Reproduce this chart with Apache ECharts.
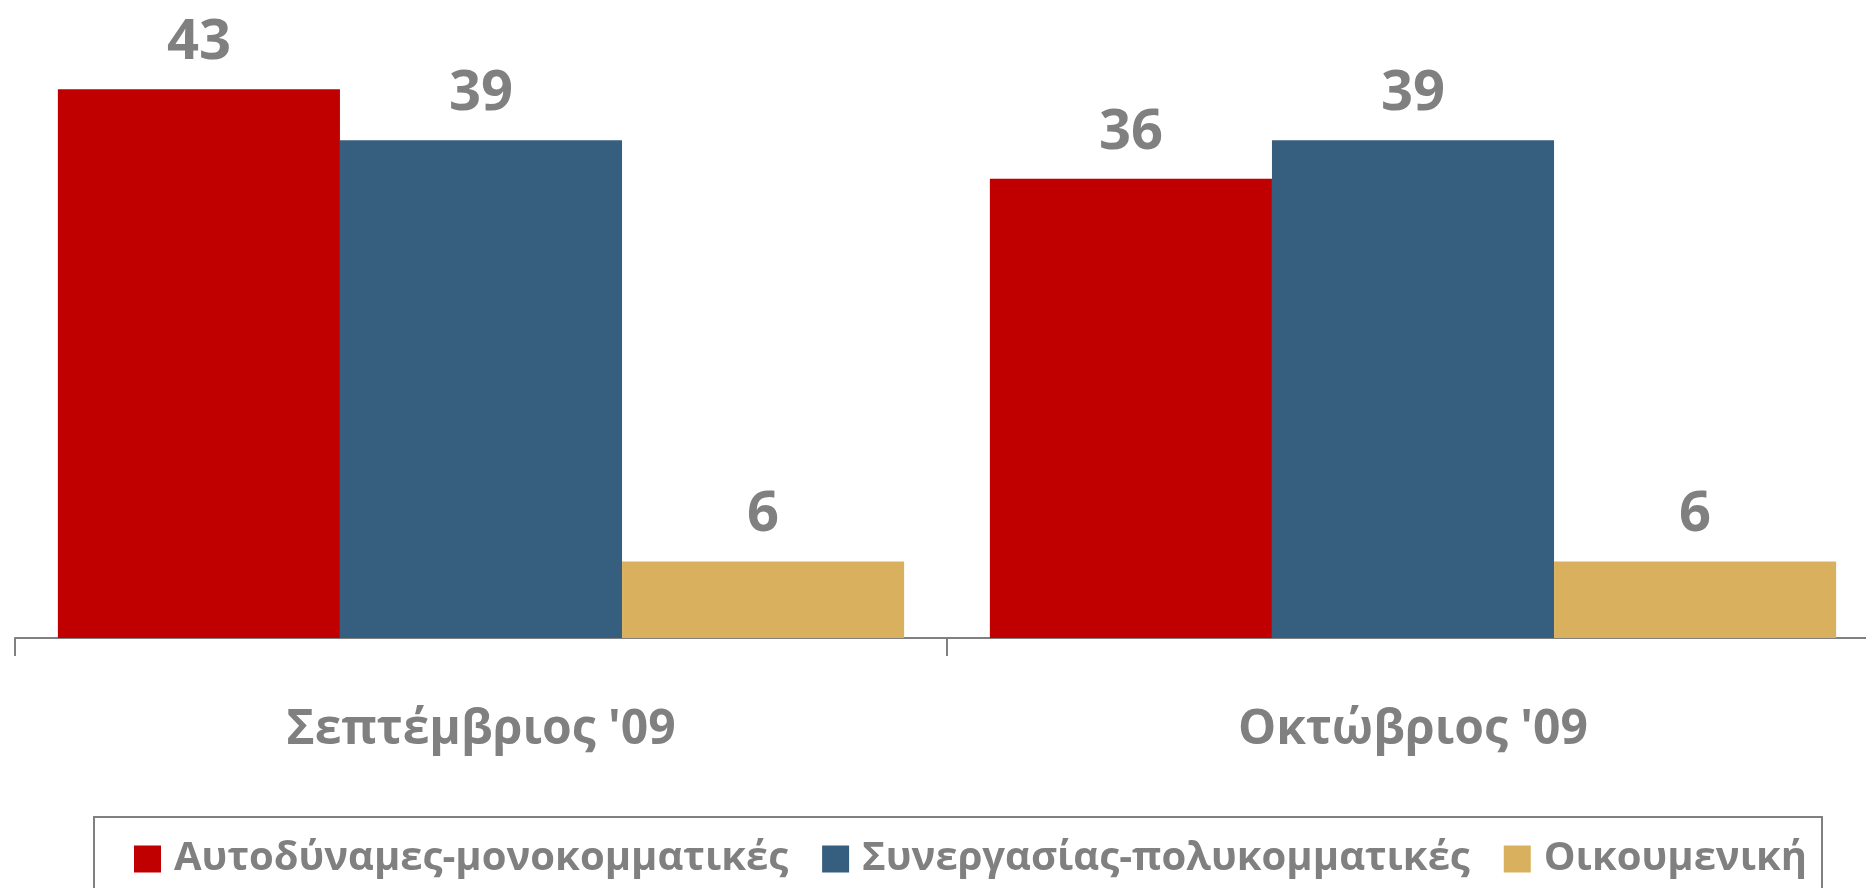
<!DOCTYPE html>
<html>
<head>
<meta charset="utf-8">
<script src="https://cdn.jsdelivr.net/npm/echarts@6/dist/echarts.min.js"></script>
<style>
  html, body { margin: 0; padding: 0; background: #fff; overflow: hidden; }
  /* the source chart runs a bit past the right edge, so the canvas is wider than the window */
  #chart { width: 1880px; height: 888px; }
</style>
</head>
<body>
<div id="chart"></div>
<script>
// data
const months = ["Σεπτέμβριος '09", "Οκτώβριος '09"];
const seriesNames = ['Αυτοδύναμες-μονοκομματικές', 'Συνεργασίας-πολυκομματικές', 'Οικουμενική'];
const singleParty = [43, 36];
const coalition = [39, 39];
const ecumenical = [6, 6];

const colors = ['#c00000', '#365e7e', '#d9b15e'];
const gray = '#808080';
const font = '"Open Sans", "Noto Sans", sans-serif';

const chart = echarts.init(document.getElementById('chart'));

const labelStyle = {
  show: true,
  position: 'top',
  distance: 18,
  color: gray,
  fontFamily: font,
  fontWeight: 'bold',
  fontSize: 56
};

function makeSeries(name, data, i) {
  return {
    name: name,
    type: 'bar',
    data: data,
    barGap: 0,
    barCategoryGap: '9.2%',
    itemStyle: { color: colors[i] },
    label: labelStyle,
    animation: false
  };
}

chart.setOption({
  animation: false,
  grid: { left: 15, top: -2, width: 1864, height: 640, containLabel: false },
  xAxis: {
    type: 'category',
    data: months,
    axisLine: { lineStyle: { color: gray, width: 2 } },
    axisTick: { show: true, interval: 0, length: 18, lineStyle: { color: gray, width: 2 } },
    axisLabel: {
      color: gray,
      fontFamily: font,
      fontWeight: 'bold',
      fontSize: 48,
      lineHeight: 50,
      margin: 67
    }
  },
  yAxis: { type: 'value', min: 0, max: 50, show: false, splitLine: { show: false } },
  legend: {
    left: 134,
    top: 839,
    padding: 0,
    itemWidth: 27,
    itemHeight: 27,
    itemGap: 34,
    icon: 'rect',
    textStyle: { color: gray, fontFamily: font, fontWeight: 'bold', fontSize: 40, padding: [0, 0, 0, 8] },
    data: seriesNames
  },
  graphic: [{
    type: 'rect',
    shape: { x: 94, y: 817, width: 1728, height: 100 },
    style: { fill: 'none', stroke: gray, lineWidth: 2 },
    silent: true
  }],
  series: [
    makeSeries(seriesNames[0], singleParty, 0),
    makeSeries(seriesNames[1], coalition, 1),
    makeSeries(seriesNames[2], ecumenical, 2)
  ]
});
</script>
</body>
</html>
